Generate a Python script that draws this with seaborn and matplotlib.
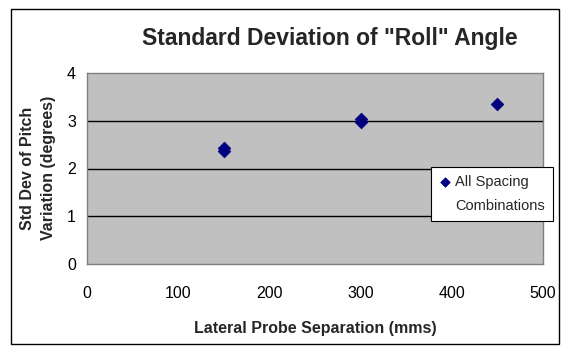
import matplotlib
matplotlib.use("Agg")
import matplotlib.pyplot as plt
import seaborn as sns
import pandas as pd
from matplotlib.patches import Rectangle
from matplotlib.lines import Line2D

# Measured roll-angle scatter per lateral probe separation
separation_mm = [150, 150, 300, 300, 450]
roll_std_deg = [2.36, 2.42, 2.97, 3.04, 3.35]
series_label = ["All Spacing", "Combinations"]
x_ticks = [0, 100, 200, 300, 400, 500]
y_ticks = [0, 1, 2, 3, 4]

sns.set_theme(style="white")
plt.rcParams["font.family"] = ["Liberation Sans", "DejaVu Sans"]

W, H = 568, 352
fig = plt.figure(figsize=(W / 100, H / 100), dpi=100)
fig.patch.set_facecolor("white")

# outer chart border
fig.patches.append(Rectangle((11 / W, 1 - 344 / H), (559 - 11) / W, (344 - 9) / H,
                             transform=fig.transFigure, fill=False,
                             edgecolor="black", linewidth=1.0))

ax = fig.add_axes([87 / W, 1 - 264 / H, (543 - 87) / W, (264 - 73) / H])
ax.set_facecolor("#C0C0C0")

df = pd.DataFrame({"sep": separation_mm, "sd": roll_std_deg})
sns.scatterplot(data=df, x="sep", y="sd", marker="D", color="#000080",
                edgecolor="#000080", s=42, linewidth=0.5, ax=ax,
                label=series_label[0], zorder=3)

ax.set_xlim(0, 500)
ax.set_ylim(0, 4)
ax.set_xticks(x_ticks)
ax.set_yticks(y_ticks)
ax.set_xticklabels([str(v) for v in x_ticks])
ax.set_yticklabels([str(v) for v in y_ticks])

for y in y_ticks[1:-1]:
    ax.axhline(y, color="black", linewidth=1.0, zorder=1)

for side in ["left", "top", "right", "bottom"]:
    ax.spines[side].set_visible(True)
    ax.spines[side].set_color("#808080")
    ax.spines[side].set_linewidth(1.0)

ax.tick_params(axis="both", which="major", direction="out", length=4,
               width=1, color="#808080", labelsize=11.5, labelcolor="black")
ax.tick_params(axis="x", pad=12)
ax.tick_params(axis="y", pad=4)

ax.set_xlabel("")
ax.set_ylabel("")

fig.text(330 / W, 1 - 38 / H, 'Standard Deviation of "Roll" Angle',
         ha="center", va="center", fontsize=16.5, fontweight="bold")

fig.text(315 / W, 1 - 329 / H, "Lateral Probe Separation (mms)",
         ha="center", va="center", fontsize=11.5, fontweight="bold")

fig.text(38 / W, 1 - 168 / H, "Std Dev of Pitch\nVariation (degrees)",
         ha="center", va="center", rotation=90, fontsize=11.5,
         fontweight="bold", linespacing=1.45)

# legend: marker beside the first line of the two-line series name
handles, _ = ax.get_legend_handles_labels()
blank = Line2D([], [], linestyle="none", marker=None)
leg = ax.legend(handles=[handles[0], blank], labels=series_label,
                loc="upper left", bbox_to_anchor=(431 / W, 1 - 167 / H),
                bbox_transform=fig.transFigure, frameon=True, fancybox=False,
                framealpha=1, edgecolor="black", facecolor="white",
                fontsize=10.5, handletextpad=0.3, handlelength=0.8,
                borderpad=0.55, borderaxespad=0, labelspacing=0.7,
                markerscale=0.75)
leg.get_frame().set_linewidth(0.8)

fig.savefig("out.png", dpi=100)
